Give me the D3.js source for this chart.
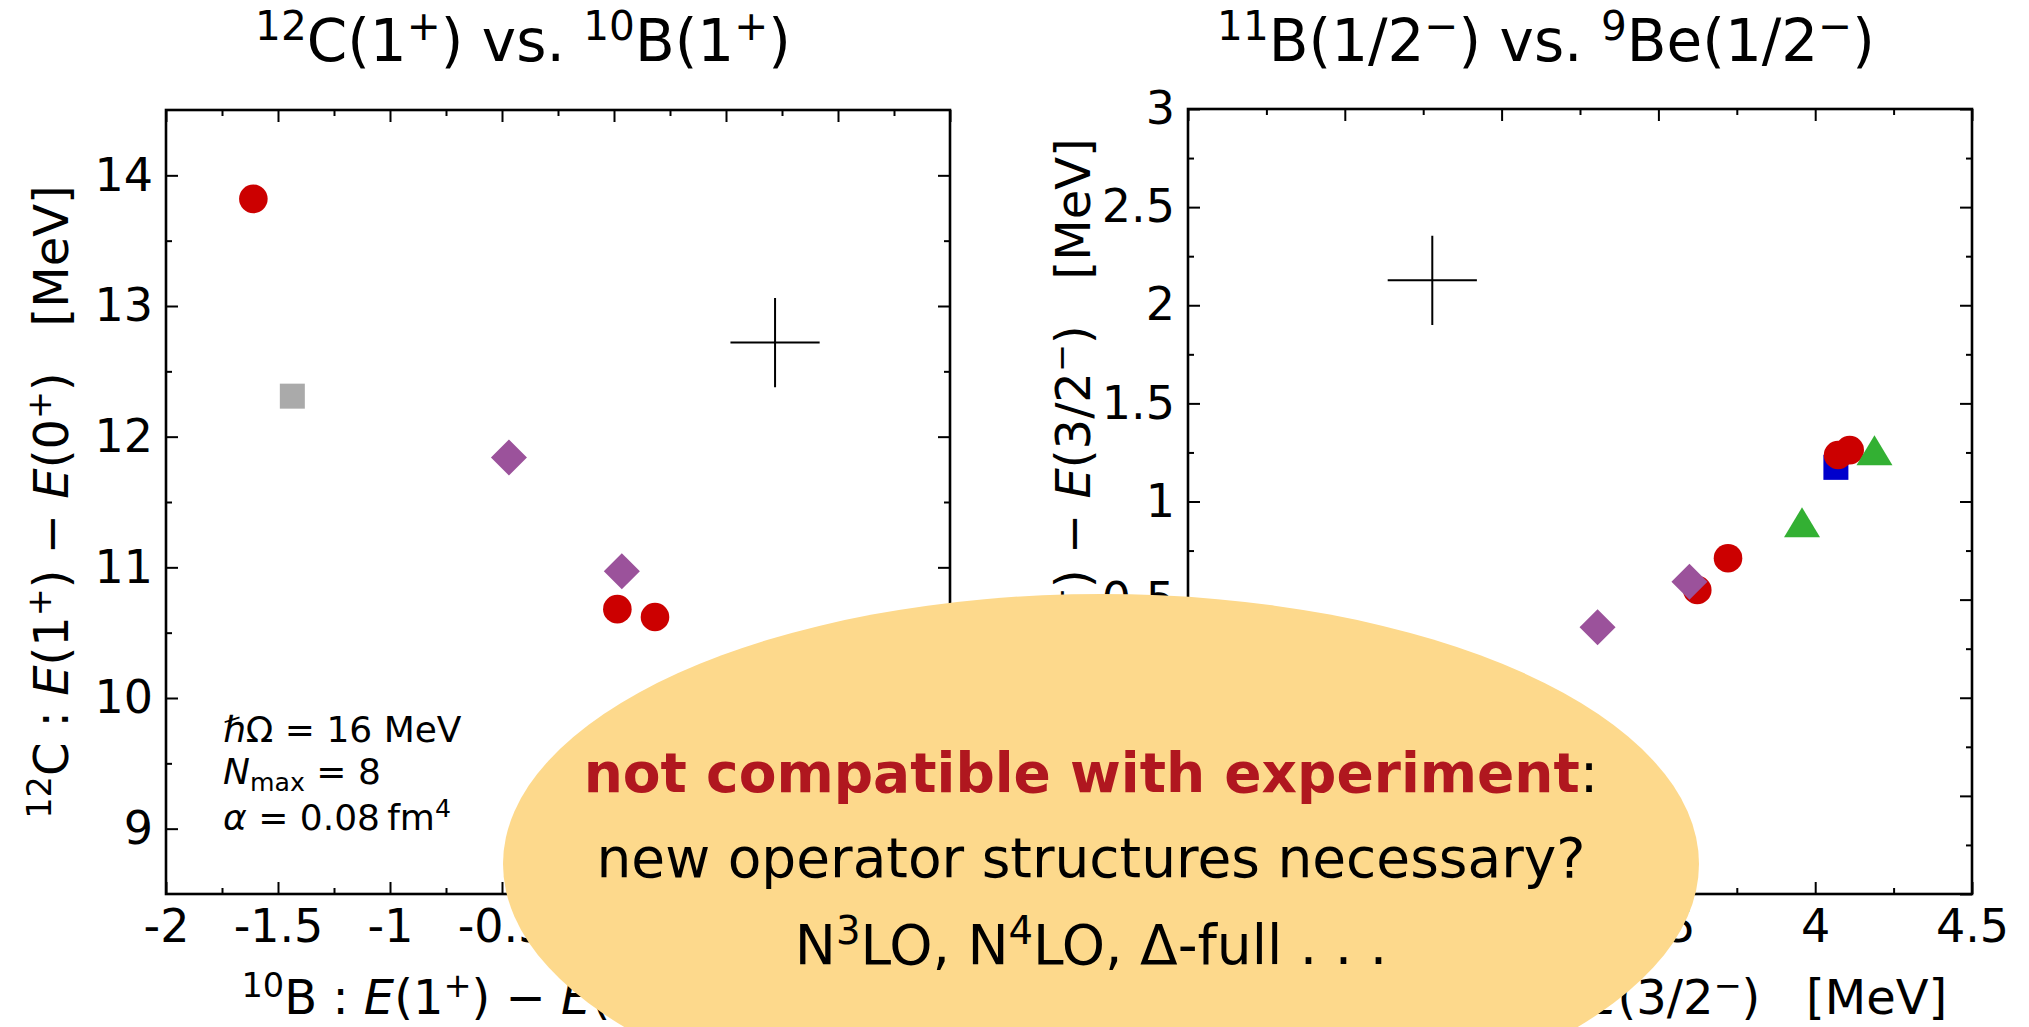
<!DOCTYPE html>
<html>
<head>
<meta charset="utf-8">
<script src="https://cdn.jsdelivr.net/npm/d3@7"></script>
<style>
  body { margin: 0; background: #fff; }
  svg text { font-family: "DejaVu Sans", sans-serif; white-space: pre; }
</style>
</head>
<body>
<svg width="2029" height="1027"></svg>
<script>
// data: [x, y]
var leftRed = [[-1.61, 13.82], [0.015, 10.68], [0.183, 10.62]];
var leftGray = [[-1.436, 12.31]];
var leftPurple = [[-0.469, 11.84], [0.035, 10.97]];
var leftExp = [[0.719, 12.72]];

var rightRed = [[3.624, 0.549], [3.722, 0.711], [4.073, 1.237], [4.110, 1.262]];
var rightBlue = [[4.066, 1.174]];
var rightPurple = [[3.306, 0.359], [3.599, 0.591]];
var rightGreen = [[3.958, 0.894], [4.189, 1.261]];
var rightExp = [[2.779, 2.127]];

// tick labels
var leftXTicks = [-2, -1.5, -1, -0.5, 0, 0.5, 1, 1.5];
var leftYTicks = [9, 10, 11, 12, 13, 14];
var rightXTicks = [2, 2.5, 3, 3.5, 4, 4.5];
var rightYTicks = [-1, -0.5, 0, 0.5, 1, 1.5, 2, 2.5, 3];

var svg = d3.select("svg");

// write text with superscripts / italics: parts = [[text, kind]]
function richText(sel, parts, fs) {
  var shift = 0;
  parts.forEach(function(p) {
    var t = sel.append("tspan").text(p[0]);
    var target = 0, size = fs;
    if (p[1] === "s") { target = -0.36 * fs; size = 0.7 * fs; }
    if (p[1] === "b") { target = 0.2 * fs; size = 0.7 * fs; }
    t.attr("font-size", size).attr("dy", target - shift);
    shift = target;
    if (p[1] === "i") t.attr("font-style", "italic");
    if (p[1] === "B") t.attr("font-weight", "bold").attr("fill", "#b0171f");
  });
}

function midpoints(a) {
  var m = [];
  for (var i = 0; i < a.length - 1; i++) m.push((a[i] + a[i + 1]) / 2);
  return m;
}

function fmt(d) { return String(d); }

function drawPanel(opt) {
  var x = d3.scaleLinear().domain(opt.xd).range([opt.left, opt.right]),
      y = d3.scaleLinear().domain(opt.yd).range([opt.bottom, opt.top]);
  var g = svg.append("g");
  var xMinor = midpoints(opt.xt), yMinor = midpoints(opt.yt);

  function axis(gen, scale, vals, size, labels, tr, pad) {
    var a = g.append("g").attr("transform", tr)
      .call(gen(scale).tickValues(vals).tickSizeInner(-size).tickSizeOuter(0)
        .tickPadding(pad || 0).tickFormat(labels ? fmt : ""));
    a.select(".domain").remove();
    a.selectAll("line").attr("stroke", "#000").attr("stroke-width", 2);
    a.selectAll("text").attr("font-size", 46).attr("fill", "#000")
      .attr("font-family", "DejaVu Sans");
    return a;
  }
  var bt = "translate(0," + opt.bottom + ")", tt = "translate(0," + opt.top + ")",
      lt = "translate(" + opt.left + ",0)", rt = "translate(" + opt.right + ",0)";
  axis(d3.axisBottom, x, opt.xt, 12, true, bt, 15);
  axis(d3.axisBottom, x, xMinor, 6, false, bt);
  axis(d3.axisTop, x, opt.xt, 12, false, tt);
  axis(d3.axisTop, x, xMinor, 6, false, tt);
  axis(d3.axisLeft, y, opt.yt, 12, true, lt, 13);
  axis(d3.axisLeft, y, yMinor, 6, false, lt);
  axis(d3.axisRight, y, opt.yt, 12, false, rt);
  axis(d3.axisRight, y, yMinor, 6, false, rt);

  g.append("rect")
    .attr("x", opt.left).attr("y", opt.top)
    .attr("width", opt.right - opt.left).attr("height", opt.bottom - opt.top)
    .attr("fill", "none").attr("stroke", "#000").attr("stroke-width", 2.6);

  var square = d3.symbol().type(d3.symbolSquare).size(625)();
  var circle = d3.symbol().type(d3.symbolCircle).size(Math.PI * 14.3 * 14.3)();
  var diamond = d3.symbol().type(d3.symbolSquare).size(650)();
  var tri = "M0,-15L18,15L-18,15Z";
  var cross = "M-44.6,0H44.6M0,-44.6V44.6";

  function marks(data, path, fill, rot) {
    g.selectAll(null).data(data).enter().append("path")
      .attr("d", path)
      .attr("transform", function(d) {
        return "translate(" + x(d[0]) + "," + y(d[1]) + ")" + (rot ? " rotate(45)" : "");
      })
      .attr("fill", fill);
  }
  opt.series.forEach(function(s) {
    if (s.kind === "square") marks(s.data, square, s.color);
    if (s.kind === "circle") marks(s.data, circle, s.color);
    if (s.kind === "diamond") marks(s.data, diamond, s.color, true);
    if (s.kind === "triangle") marks(s.data, tri, s.color);
  });
  g.selectAll(null).data(opt.exp).enter().append("path")
    .attr("d", cross)
    .attr("transform", function(d) { return "translate(" + x(d[0]) + "," + y(d[1]) + ")"; })
    .attr("fill", "none").attr("stroke", "#000").attr("stroke-width", 2);

  // title
  richText(svg.append("text").attr("x", opt.titleX).attr("y", 61)
    .attr("text-anchor", "middle"), opt.title, 58);
  // y label
  richText(svg.append("text")
    .attr("transform", "translate(" + (opt.left - 98) + "," + ((opt.top + opt.bottom) / 2) + ") rotate(-90)")
    .attr("text-anchor", "middle"), opt.ylabel, 48);
  // x label
  richText(svg.append("text").attr("x", (opt.left + opt.right) / 2).attr("y", 1014)
    .attr("text-anchor", "middle"), opt.xlabel, 48);
  return { x: x, y: y };
}

drawPanel({
  left: 166, right: 950, top: 110, bottom: 894,
  xd: [-2, 1.5], yd: [8.5, 14.5], xt: leftXTicks, yt: leftYTicks,
  series: [
    { kind: "square", data: leftGray, color: "#aaaaaa" },
    { kind: "circle", data: leftRed, color: "#cc0000" },
    { kind: "diamond", data: leftPurple, color: "#9b529b" }
  ],
  exp: leftExp,
  titleX: 523,
  title: [["12", "s"], ["C(1", "n"], ["+", "s"], [") vs. ", "n"], ["10", "s"], ["B(1", "n"], ["+", "s"], [")", "n"]],
  ylabel: [["12", "s"], ["C : ", "n"], ["E", "i"], ["(1", "n"], ["+", "s"], [") \u2212 ", "n"], ["E", "i"], ["(0", "n"], ["+", "s"], [")   [MeV]", "n"]],
  xlabel: [["10", "s"], ["B : ", "n"], ["E", "i"], ["(1", "n"], ["+", "s"], [") \u2212 ", "n"], ["E", "i"], ["(3", "n"], ["+", "s"], [")   [MeV]", "n"]]
});

drawPanel({
  left: 1188, right: 1972, top: 109, bottom: 894,
  xd: [2, 4.5], yd: [-1, 3], xt: rightXTicks, yt: rightYTicks,
  series: [
    { kind: "square", data: rightBlue, color: "#0000cc" },
    { kind: "circle", data: rightRed, color: "#cc0000" },
    { kind: "diamond", data: rightPurple, color: "#9b529b" },
    { kind: "triangle", data: rightGreen, color: "#33b033" }
  ],
  exp: rightExp,
  titleX: 1546,
  title: [["11", "s"], ["B(1/2", "n"], ["\u2212", "s"], [") vs. ", "n"], ["9", "s"], ["Be(1/2", "n"], ["\u2212", "s"], [")", "n"]],
  ylabel: [["11", "s"], ["B : ", "n"], ["E", "i"], ["(1/2", "n"], ["\u2212", "s"], [") \u2212 ", "n"], ["E", "i"], ["(3/2", "n"], ["\u2212", "s"], [")   [MeV]", "n"]],
  xlabel: [["9", "s"], ["Be : ", "n"], ["E", "i"], ["(1/2", "n"], ["\u2212", "s"], [") \u2212 ", "n"], ["E", "i"], ["(3/2", "n"], ["\u2212", "s"], [")   [MeV]", "n"]]
});

// parameter note in the left panel
var note = [
  { y: 742, parts: [["\u210f", "i"], ["\u03a9 = 16 MeV", "n"]] },
  { y: 784, parts: [["N", "i"], ["max", "b"], [" = 8", "n"]] },
  { y: 830, parts: [["\u03b1", "i"], [" = 0.08\u2009fm", "n"], ["4", "s"]] }
];
note.forEach(function(n) {
  richText(svg.append("text").attr("x", 223).attr("y", n.y), n.parts, 36);
});

// overlay bubble
svg.append("ellipse")
  .attr("cx", 1101).attr("cy", 864).attr("rx", 598).attr("ry", 270)
  .attr("fill", "#fdd98c");

var bubble = [
  { y: 792, parts: [["not compatible with experiment", "B"], [":", "n"]] },
  { y: 877, parts: [["new operator structures necessary?", "n"]] },
  { y: 964, parts: [["N", "n"], ["3", "s"], ["LO, N", "n"], ["4", "s"], ["LO, \u0394-full . . .", "n"]] }
];
bubble.forEach(function(b) {
  richText(svg.append("text").attr("x", 1091).attr("y", b.y)
    .attr("text-anchor", "middle").attr("fill", "#000"), b.parts, 55);
});
</script>
</body>
</html>
